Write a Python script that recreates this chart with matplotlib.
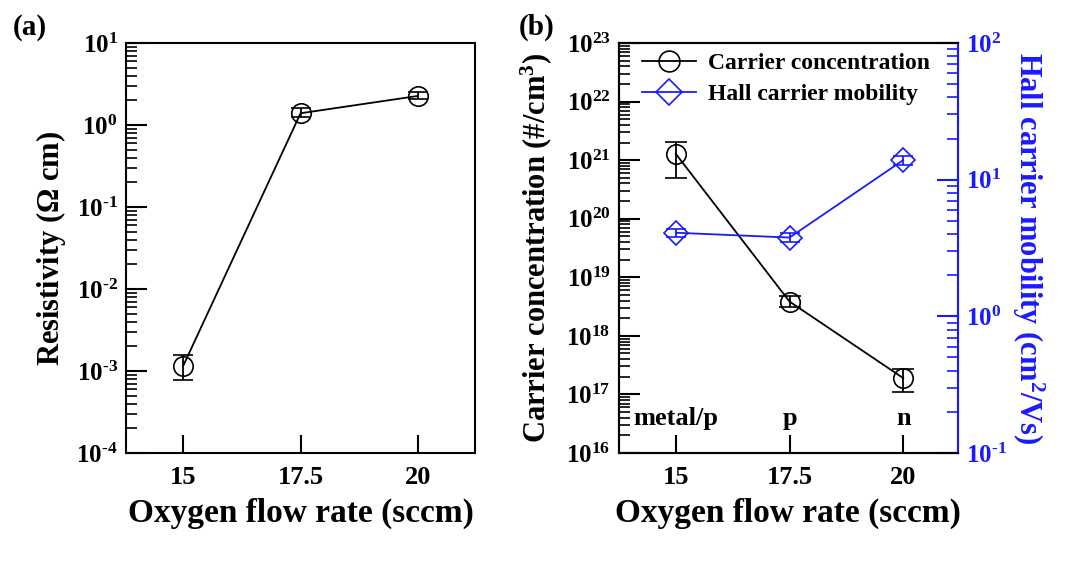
import numpy as np
import matplotlib
matplotlib.use('Agg')
import matplotlib.pyplot as plt
from matplotlib.ticker import LogLocator, NullFormatter, FuncFormatter
from matplotlib.lines import Line2D

plt.rcParams['font.family'] = ['Liberation Serif', 'DejaVu Serif']
plt.rcParams['font.weight'] = 'bold'
plt.rcParams['mathtext.fontset'] = 'custom'
plt.rcParams['mathtext.rm'] = 'Liberation Serif:bold'
plt.rcParams['mathtext.bf'] = 'Liberation Serif:bold'
plt.rcParams['mathtext.it'] = 'Liberation Serif:bold:italic'
plt.rcParams['mathtext.default'] = 'bf'

# data
flow = [15, 17.5, 20]
resistivity = [1.16e-3, 1.39, 2.26]
res_err_lo = [0.38e-3, 0.15, 0.2]
res_err_hi = [0.39e-3, 0.2, 0.25]

carrier = [1.28e21, 3.85e18, 1.9e17]
car_err_lo = [0.79e21, 0.75e18, 0.8e17]
car_err_hi = [0.79e21, 0.95e18, 0.8e17]

mobility = [4.09, 3.77, 13.9]
mob_err = [0.3, 0.3, 1.0]

type_labels = ['metal/p', 'p', 'n']
xticks = [15, 17.5, 20]
xticklabels = ['15', '17.5', '20']

blue = '#1a1aff'


def pow10(v, pos):
    e = int(round(np.log10(v)))
    if e < 0:
        return r'$10^{\text{-}%d}$' % (-e)
    return r'$10^{%d}$' % e


fig = plt.figure(figsize=(10.69, 5.77), dpi=100)
ax1 = fig.add_axes([0.1179, 0.2149, 0.3265, 0.7106])
ax2 = fig.add_axes([0.579, 0.2149, 0.317, 0.7106])


def style_log_axis(ax, color='black'):
    ax.set_yscale('log')
    ax.yaxis.set_major_locator(LogLocator(base=10, numticks=20))
    ax.yaxis.set_minor_locator(LogLocator(base=10, subs=np.arange(2, 10), numticks=20))
    ax.yaxis.set_minor_formatter(NullFormatter())
    ax.yaxis.set_major_formatter(FuncFormatter(pow10))
    ax.tick_params(axis='y', which='major', direction='in', length=15, width=1.5,
                   labelsize=18, color=color, labelcolor=color, pad=6)
    ax.tick_params(axis='y', which='minor', direction='in', length=8, width=1.2, color=color)


# (a) resistivity
ax1.errorbar(flow, resistivity, yerr=[res_err_lo, res_err_hi], color='black', lw=1.3,
             marker='o', ms=14, mfc='none', mec='black', mew=1.2,
             capsize=7, elinewidth=1.3, capthick=1.3)
style_log_axis(ax1)
ax1.set_ylim(1e-4, 1e1)
ax1.set_xlim(13.78, 21.22)
ax1.set_xticks(xticks)
ax1.set_xticklabels(xticklabels)
ax1.tick_params(axis='x', direction='in', length=13, width=1.5, labelsize=19, pad=9)
ax1.tick_params(top=False, right=False)
for s in ax1.spines.values():
    s.set_linewidth(1.5)
ax1.set_xlabel('Oxygen flow rate (sccm)', fontsize=24, fontweight='bold', labelpad=7)
ax1.set_ylabel(r'Resistivity ($\Omega$ cm)', fontsize=22, fontweight='bold', labelpad=6)

# (b) carrier concentration + mobility
ax2.errorbar(flow, carrier, yerr=[car_err_lo, car_err_hi], color='black', lw=1.3,
             marker='o', ms=14, mfc='none', mec='black', mew=1.2,
             capsize=8, elinewidth=1.3, capthick=1.3)
style_log_axis(ax2)
ax2.set_ylim(1e16, 1e23)
ax2.set_xlim(13.75, 21.2)
ax2.set_xticks(xticks)
ax2.set_xticklabels(xticklabels)
ax2.tick_params(axis='x', direction='in', length=13, width=1.5, labelsize=19, pad=9)
ax2.tick_params(top=False, right=False)
ax2.set_xlabel('Oxygen flow rate (sccm)', fontsize=24, fontweight='bold', labelpad=7)
ax2.set_ylabel(r'Carrier concentration (#/cm$^3$)', fontsize=22, fontweight='bold', labelpad=9)

for x, lab in zip(flow, type_labels):
    ax2.text(x, 0.085, lab, transform=ax2.get_xaxis_transform(), ha='center', va='center',
             fontsize=19, fontweight='bold')

ax3 = ax2.twinx()
ax3.errorbar(flow, mobility, yerr=mob_err, color=blue, lw=1.3,
             marker='D', ms=12, mfc='none', mec=blue, mew=1.2,
             capsize=7, elinewidth=1.3, capthick=1.3)
ax3.set_yscale('log')
ax3.set_ylim(1e-1, 1e2)
ax3.yaxis.set_major_locator(LogLocator(base=10, numticks=20))
ax3.yaxis.set_minor_locator(LogLocator(base=10, subs=np.arange(2, 10), numticks=20))
ax3.yaxis.set_minor_formatter(NullFormatter())
ax3.yaxis.set_major_formatter(FuncFormatter(pow10))
ax3.tick_params(axis='y', which='major', direction='in', length=15, width=1.5,
                labelsize=18, color=blue, labelcolor=blue, pad=6)
ax3.tick_params(axis='y', which='minor', direction='in', length=8, width=1.2, color=blue)
ax3.set_ylabel(r'Hall carrier mobility (cm$^2$/Vs)', fontsize=22, fontweight='bold',
               color=blue, rotation=270, labelpad=28)
for s in ax2.spines.values():
    s.set_linewidth(1.5)
for s in ax3.spines.values():
    s.set_linewidth(1.5)
ax3.spines['right'].set_color(blue)

handles = [
    Line2D([], [], color='black', lw=1.3, marker='o', ms=15, mfc='none', mec='black', mew=1.2),
    Line2D([], [], color=blue, lw=1.3, marker='D', ms=13, mfc='none', mec=blue, mew=1.2),
]
ax2.legend(handles, ['Carrier concentration', 'Hall carrier mobility'], loc='upper left',
           frameon=False, fontsize=17, handlelength=2.3, borderaxespad=0.0,
           labelspacing=0.4, handletextpad=0.5, bbox_to_anchor=(0.04, 1.0))

fig.text(0.012, 0.94, '(a)', fontsize=21, fontweight='bold')
fig.text(0.485, 0.94, '(b)', fontsize=21, fontweight='bold')

fig.savefig('out.png', dpi=100)
